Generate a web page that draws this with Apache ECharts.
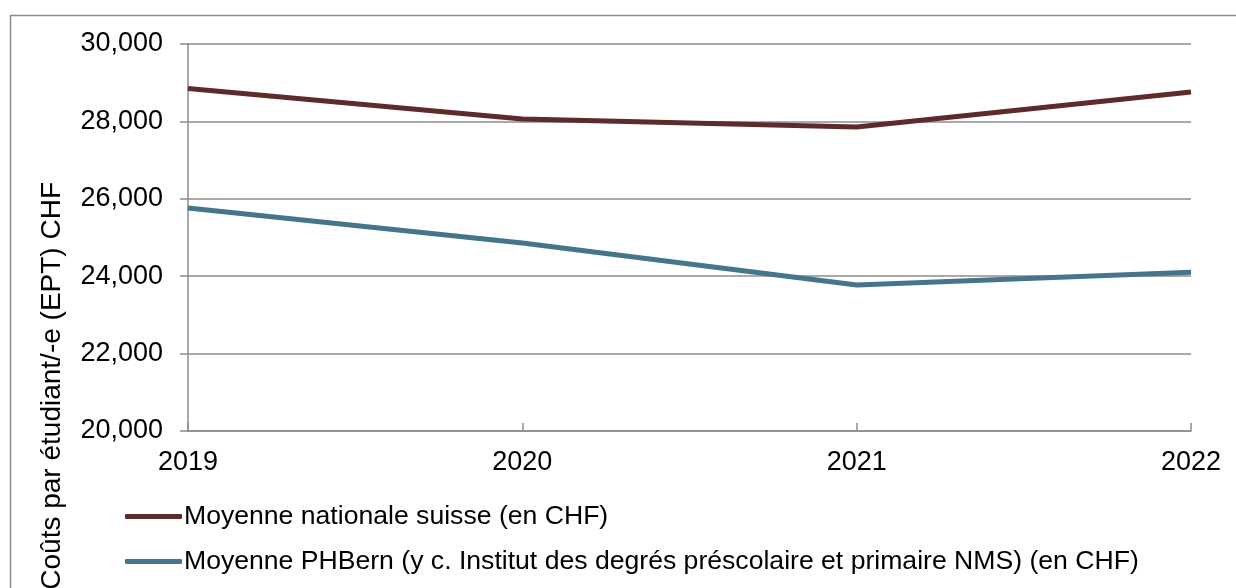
<!DOCTYPE html>
<html>
<head>
<meta charset="utf-8">
<script src="https://cdn.jsdelivr.net/npm/echarts@6/dist/echarts.min.js"></script>
<style>html,body{margin:0;padding:0;background:#fff}#c{width:1236px;height:588px}</style>
</head>
<body>
<div id="c"></div>
<script>
const categories = ['2019', '2020', '2021', '2022'];
const seriesNames = ['Moyenne nationale suisse (en CHF)', 'Moyenne PHBern (y c. Institut des degrés préscolaire et primaire NMS) (en CHF)'];
const nationalValues = [28850, 28060, 27855, 28760];
const phbernValues = [25760, 24860, 23775, 24105];
const yTicks = [20000, 22000, 24000, 26000, 28000, 30000];
const yAxisTitle = 'Coûts par étudiant/-e (EPT) CHF';

const chart = echarts.init(document.getElementById('c'), null, {renderer: 'canvas'});
const font = '"Liberation Sans", Arial, sans-serif';
chart.setOption({
  animation: false,
  backgroundColor: '#fff',
  textStyle: {fontFamily: font},
  grid: {left: 188, right: 45, top: 44, bottom: 157, containLabel: false},
  graphic: [
    {type: 'rect', shape: {x: 10.5, y: 15.5, width: 1400, height: 800}, style: {fill: 'none', stroke: '#8c8c8c', lineWidth: 1.5}, silent: true},
    {type: 'text', x: 52, y: 182, rotation: Math.PI / 2,
     style: {text: yAxisTitle, fill: '#000', font: '28px ' + font, textAlign: 'right', textVerticalAlign: 'middle'}}
  ],
  legend: {
    orient: 'vertical', left: 120, top: 498, itemGap: 18,
    itemWidth: 57, itemHeight: 5, icon: 'roundRect',
    textStyle: {fontSize: 26.6, color: '#000', fontFamily: font, padding: [0, 0, 0, -3]},
    data: seriesNames
  },
  xAxis: {
    type: 'category', data: categories, boundaryGap: false,
    axisLine: {lineStyle: {color: '#8c8c8c', width: 1.5}},
    axisTick: {show: true, inside: true, length: 8, lineStyle: {color: '#8c8c8c', width: 1.5}},
    axisLabel: {fontSize: 27, color: '#000', margin: 18, fontFamily: font},
    splitLine: {show: false}
  },
  yAxis: {
    type: 'value', min: 20000, max: 30000, interval: 2000,
    axisLine: {show: true, lineStyle: {color: '#8c8c8c', width: 1.5}},
    axisTick: {show: true, length: 8, lineStyle: {color: '#8c8c8c', width: 1.5}},
    axisLabel: {fontSize: 27, color: '#000', margin: 25, fontFamily: font,
      formatter: v => yTicks.includes(v) ? v.toLocaleString('en-US') : ''},
    splitLine: {lineStyle: {color: '#8c8c8c', width: 1.5}}
  },
  series: [
    {name: seriesNames[0], type: 'line', data: nationalValues, symbol: 'none',
     lineStyle: {color: '#5e2b2b', width: 5}, itemStyle: {color: '#5e2b2b'}},
    {name: seriesNames[1], type: 'line', data: phbernValues, symbol: 'none',
     lineStyle: {color: '#45758c', width: 5}, itemStyle: {color: '#45758c'}}
  ]
});
</script>
</body>
</html>
